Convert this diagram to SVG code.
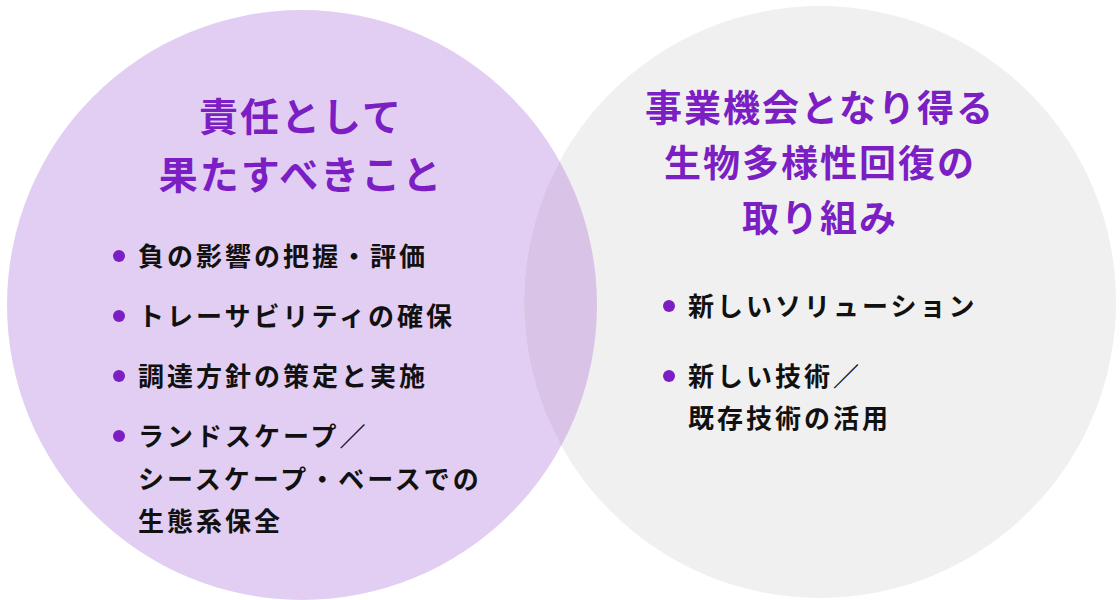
<svg xmlns="http://www.w3.org/2000/svg" width="1120" height="600" viewBox="0 0 1120 600">
<style>
.t{font-family:"Noto Sans CJK JP","Noto Sans",sans-serif;font-weight:700;font-size:37px;letter-spacing:2px;fill:#7b1fc4;text-anchor:middle}
.b{font-family:"Noto Sans CJK JP","Noto Sans",sans-serif;font-weight:700;font-size:26px;letter-spacing:3px;fill:#111}
.d{fill:#7b1fc4}
</style>
<defs><clipPath id="cl"><circle cx="302" cy="305" r="295"/></clipPath></defs>
<g id="left"><circle cx="302" cy="305" r="295" fill="#e2cef2"/></g>
<g id="right"><circle cx="820" cy="302" r="296" fill="#f0f0f0"/>
<circle cx="820" cy="302" r="296" fill="#d9c3e7" clip-path="url(#cl)"/></g>
<g id="leftText">
<text class="t" x="301" y="131" style="font-size:39px">責任として</text>
<text class="t" x="301" y="189" style="font-size:39px">果たすべきこと</text>
<circle class="d" cx="119" cy="256" r="6"/><text class="b" x="138" y="266">負の影響の把握・評価</text>
<circle class="d" cx="119" cy="316" r="6"/><text class="b" x="138" y="326">トレーサビリティの確保</text>
<circle class="d" cx="119" cy="376" r="6"/><text class="b" x="138" y="386">調達方針の策定と実施</text>
<circle class="d" cx="119" cy="436" r="6"/><text class="b" x="138" y="446">ランドスケープ／</text>
<text class="b" x="138" y="489">シースケープ・ベースでの</text>
<text class="b" x="138" y="531">生態系保全</text>
</g>
<g id="rightText">
<text class="t" x="820" y="122">事業機会となり得る</text>
<text class="t" x="820" y="177">生物多様性回復の</text>
<text class="t" x="820" y="232">取り組み</text>
<circle class="d" cx="669" cy="306" r="6"/><text class="b" x="688" y="316">新しいソリューション</text>
<circle class="d" cx="669" cy="376" r="6"/><text class="b" x="688" y="386">新しい技術／</text>
<text class="b" x="688" y="428">既存技術の活用</text>
</g>
<g id="connectors"/>
</svg>
